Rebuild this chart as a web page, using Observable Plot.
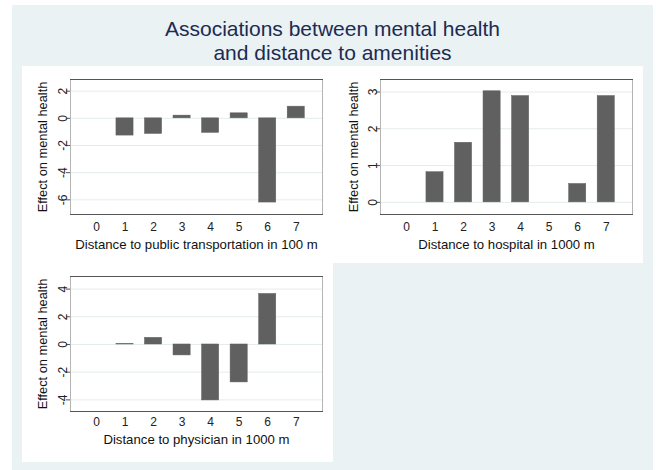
<!DOCTYPE html>
<html>
<head>
<meta charset="utf-8">
<script src="https://cdn.jsdelivr.net/npm/d3@7"></script>
<script src="https://cdn.jsdelivr.net/npm/@observablehq/plot@0.6"></script>
<style>
  html, body { margin: 0; padding: 0; background: #ffffff; }
  #page { position: relative; width: 656px; height: 470px; overflow: hidden; font-family: "Liberation Sans", Arial, sans-serif; }
  #bg { position: absolute; left: 12px; top: 5px; width: 641px; height: 465px; background: #eaf2f3; }
  .title { position: absolute; left: 12px; width: 641px; text-align: center; font-size: 21px; line-height: 23.5px; height: 23.5px; color: #1c2b52; white-space: nowrap; }
  .panel { position: absolute; background: #ffffff; }
  .panel svg { display: block; }
</style>
</head>
<body>
<div id="page">
  <div id="bg"></div>
  <div class="title" style="top:17px;">Associations between mental health</div>
  <div class="title" style="top:40.5px;">and distance to amenities</div>
  <div class="panel" id="p1" style="left:22px; top:66px;"></div>
  <div class="panel" id="p2" style="left:333px; top:66px;"></div>
  <div class="panel" id="p3" style="left:22px; top:263px;"></div>
</div>
<script>
// Data
const xTicks = [0, 1, 2, 3, 4, 5, 6, 7];

const transportX = [1, 2, 3, 4, 5, 6, 7];
const transportEffect = [-1.27, -1.15, 0.2, -1.07, 0.37, -6.2, 0.86];
const transportTicks = [-6, -4, -2, 0, 2];

const hospitalX = [1, 2, 3, 4, 6, 7];
const hospitalEffect = [0.82, 1.62, 3.02, 2.89, 0.5, 2.89];
const hospitalTicks = [0, 1, 2, 3];

const physicianX = [1, 2, 3, 4, 5, 6];
const physicianEffect = [0.03, 0.48, -0.79, -4.04, -2.74, 3.65];
const physicianTicks = [-4, -2, 0, 2, 4];

const yTitle = "Effect on mental health";

function panel({xs, vals, yTicks, yDomain, xTitle, width, height, mt, mb, ml, mr, tickDy, titleDy, yLabDx, yTitleDx}) {
  const data = xs.map((x, i) => ({x, v: vals[i]}));
  const font = "Liberation Sans, Arial, sans-serif";
  return Plot.plot({
    width, height,
    marginTop: mt, marginBottom: mb, marginLeft: ml, marginRight: mr,
    style: {background: "#ffffff", fontFamily: font, overflow: "visible"},
    x: {domain: [-0.91, 7.92], axis: null},
    y: {domain: yDomain, axis: null},
    marks: [
      Plot.gridY(yTicks, {stroke: "#e4ecee", strokeOpacity: 1, strokeWidth: 1}),
      Plot.rectY(data, {x1: d => d.x - 0.3, x2: d => d.x + 0.3, y: "v", fill: "#606060", stroke: "#606060", strokeWidth: 0.5}),
      Plot.frame({stroke: "#b4b4b4"}),
      Plot.frame({anchor: "top", stroke: "#555555"}),
      Plot.frame({anchor: "bottom", stroke: "#555555"}),
      Plot.axisY(yTicks, {tickSize: 4, tickFormat: () => "", label: null, stroke: "#555555"}),
      Plot.text(yTicks, {y: d => d, text: d => String(d), frameAnchor: "left", dx: yLabDx, rotate: -90, textAnchor: "middle", lineAnchor: "middle", fontSize: 12, fill: "#222"}),
      Plot.text(xTicks, {x: d => d, text: d => String(d), frameAnchor: "bottom", dy: tickDy, lineAnchor: "middle", fontSize: 12, fill: "#222"}),
      Plot.text([xTitle], {text: d => d, frameAnchor: "bottom", dy: titleDy, lineAnchor: "middle", fontSize: 13.2, fill: "#111"}),
      Plot.text([yTitle], {text: d => d, frameAnchor: "left", dx: yTitleDx, rotate: -90, textAnchor: "middle", lineAnchor: "middle", fontSize: 12.8, fill: "#111"})
    ]
  });
}

document.getElementById("p1").appendChild(panel({
  xs: transportX, vals: transportEffect, yTicks: transportTicks, yDomain: [-7.08, 2.86],
  xTitle: "Distance to public transportation in 100 m",
  width: 311, height: 197, mt: 13, mb: 49, ml: 48, mr: 11, tickDy: 13, titleDy: 30, yLabDx: -7, yTitleDx: -28
}));
document.getElementById("p2").appendChild(panel({
  xs: hospitalX, vals: hospitalEffect, yTicks: hospitalTicks, yDomain: [-0.33, 3.34],
  xTitle: "Distance to hospital in 1000 m",
  width: 310, height: 197, mt: 13, mb: 49, ml: 47, mr: 11, tickDy: 13, titleDy: 30, yLabDx: -7, yTitleDx: -27
}));
document.getElementById("p3").appendChild(panel({
  xs: physicianX, vals: physicianEffect, yTicks: physicianTicks, yDomain: [-4.84, 4.91],
  xTitle: "Distance to physician in 1000 m",
  width: 311, height: 199, mt: 13, mb: 51, ml: 48, mr: 11, tickDy: 11, titleDy: 28, yLabDx: -7, yTitleDx: -28
}));
</script>
</body>
</html>
